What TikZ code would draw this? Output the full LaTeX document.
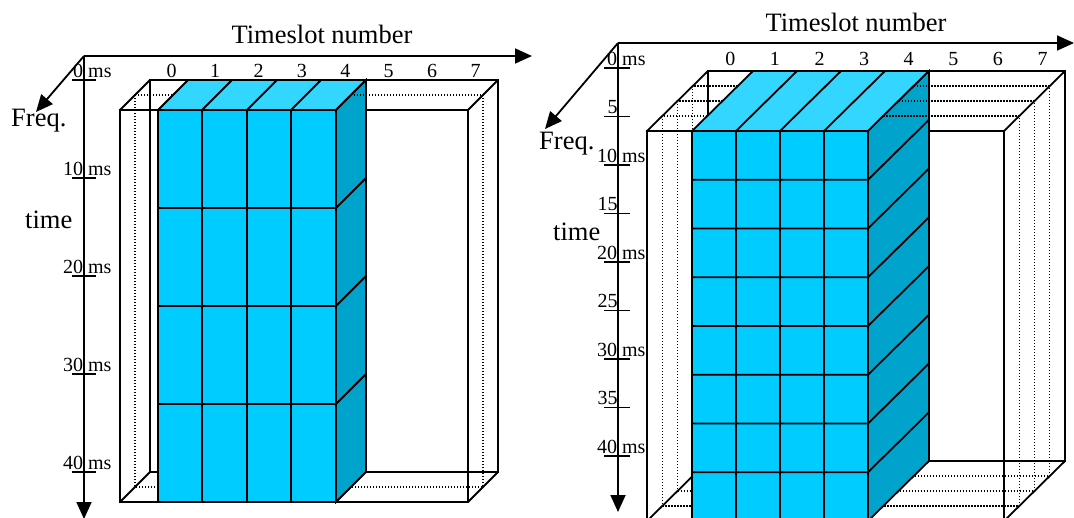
\documentclass[tikz,border=0pt]{standalone}
\usepackage{fontspec}
\setmainfont{Liberation Serif}
\usepackage{tikz}
\usetikzlibrary{arrows.meta}

\definecolor{slotfront}{HTML}{00CCFF}
\definecolor{slottop}{HTML}{33D6FF}
\definecolor{slotside}{HTML}{00A3CC}

\begin{document}
\begin{tikzpicture}[x=1pt,y=-1pt,
    wire/.style={line width=1.8pt},
    hid/.style={line width=1.3pt,dash pattern=on 1.4pt off 1.6pt},
    axis/.style={line width=1.8pt,-{Triangle[length=17pt,width=15pt]}},
    frontface/.style={wire,fill=slotfront},
    topface/.style={wire,fill=slottop},
    sideface/.style={wire,fill=slotside},
    bigtxt/.style={inner sep=0pt,font=\fontsize{26.5}{30}\selectfont},
    smalltxt/.style={inner sep=0pt,font=\fontsize{20}{24}\selectfont},
    mslab/.style={smalltxt,anchor=base west}]
  \useasboundingbox (0,0) rectangle (1074,517);
  \clip (0,0) rectangle (1074,517);

  % ---- left panel: 10 ms per frame ----
  \coordinate (lo) at (84,56);
  \coordinate (lx) at (532,56);
  \coordinate (ly) at (84,519);
  \coordinate (lf) at (36,112);
  \draw[axis] (lo) -- (lx);
  \draw[axis] (lo) -- (ly);
  \draw[axis] (lo) -- (lf);
  \node[bigtxt,anchor=base] (ltitle) at (322,43) {Timeslot number};
  \node[bigtxt,anchor=base west] (lfreq) at (11,126) {Freq.};
  \node[bigtxt,anchor=base west] (ltime) at (25,228) {time};
  \foreach \k in {0,...,4} {
    \pgfmathsetmacro\yy{80+98*\k}
    \pgfmathtruncatemacro\ms{10*\k}
    \draw[wire] (72,\yy) -- (96,\yy);
    \node[mslab] at (83,\yy-3) {\llap{\ms} ms};
  }
  \foreach \k in {0,...,7}
    \node[smalltxt,anchor=base] at ({150+43.4*(\k+0.5)},77) {\k};

  % empty frame
  \draw[wire] (120,110) rectangle (468,502);
  \draw[wire] (150,80) rectangle (498,472);
  \foreach \p in {(120,110),(468,110),(120,502),(468,502)}
    \draw[wire] \p -- ++(30,-30);
  \draw[hid] (135,95) rectangle (483,487);

  % used slots
  \draw[frontface] (158,110) rectangle (336,502);
  \draw[topface] (158,110) -- (188,80) -- (366,80) -- (336,110) -- cycle;
  \draw[sideface] (336,110) -- (366,80) -- (366,472) -- (336,502) -- cycle;
  \foreach \xx in {202,247,291}
    \draw[wire] (\xx,502) -- (\xx,110) -- ++(30,-30);
  \foreach \yy in {208,306,404}
    \draw[wire] (158,\yy) -- (336,\yy) -- ++(30,-30);
  \draw[hid] (351,95) -- (483,95);

  % ---- right panel: 5 ms per frame ----
  \coordinate (ro) at (618,43);
  \coordinate (rx) at (1074,43);
  \coordinate (ry) at (618,512);
  \coordinate (rf) at (545,129);
  \draw[axis] (ro) -- (rx);
  \draw[axis] (ro) -- (ry);
  \draw[axis] (ro) -- (rf);
  \node[bigtxt,anchor=base] (rtitle) at (856,31) {Timeslot number};
  \node[bigtxt,anchor=base west] (rfreq) at (539,149) {Freq.};
  \node[bigtxt,anchor=base west] (rtime) at (553,240) {time};
  \foreach \k/\n/\u in {0/0/ms,1/5/,2/10/ms,3/15/,4/20/ms,5/25/,6/30/ms,7/35/,8/40/ms} {
    \pgfmathsetmacro\yy{68+48.5*\k}
    \draw[wire] (604,\yy) -- (630,\yy);
    \node[mslab] at (617,\yy-3) {\llap{\n} \u};
  }
  \foreach \k in {0,...,7}
    \node[smalltxt,anchor=base] at ({708+44.6*(\k+0.5)},65) {\k};

  % empty frame
  \draw[wire] (647,131) rectangle (1004,521);
  \draw[wire] (708,71) rectangle (1065,461);
  \foreach \p in {(647,131),(1004,131),(647,521),(1004,521)}
    \draw[wire] \p -- ++(61,-60);
  \foreach \d in {0.25,0.5,0.75}
    \draw[hid] ({647+61*\d},{131-60*\d}) rectangle ({1004+61*\d},{521-60*\d});

  % used slots
  \draw[frontface] (692,131) rectangle (868,521);
  \draw[topface] (692,131) -- (753,71) -- (929,71) -- (868,131) -- cycle;
  \draw[sideface] (868,131) -- (929,71) -- (929,461) -- (868,521) -- cycle;
  \foreach \xx in {736,780,824}
    \draw[wire] (\xx,521) -- (\xx,131) -- ++(61,-60);
  \foreach \k in {1,...,7}
    \draw[wire] (692,{131+48.75*\k}) -- (868,{131+48.75*\k}) -- ++(61,-60);
  \foreach \d in {0.25,0.5,0.75}
    \draw[hid] ({868+61*\d},{131-60*\d}) -- ({1004+61*\d},{131-60*\d});
\end{tikzpicture}
\end{document}
